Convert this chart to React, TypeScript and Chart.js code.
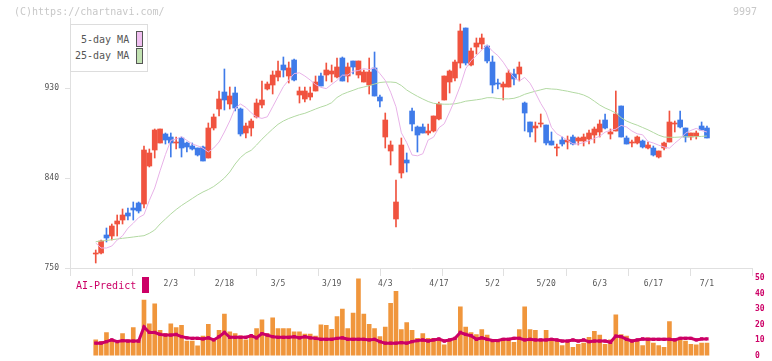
import React, { useEffect, useRef } from 'react';
import { Chart, registerables } from 'chart.js';

Chart.register(...registerables);

// ---- data ----
const opens = [
  764, 765, 783, 782, 794, 798, 805, 810, 815, 814,
  852, 868, 875, 884, 881, 875, 880, 875, 872, 870,
  871, 860, 890, 909, 926, 914, 925, 909, 885, 890,
  901, 913, 929, 933, 941, 953, 942, 958, 923, 919,
  921, 927, 942, 943, 944, 941, 960, 942, 957, 943,
  936, 933, 950, 921, 881, 867, 799, 845, 858, 907,
  891, 891, 885, 887, 899, 918, 936, 940, 955, 990,
  953, 971, 974, 972, 956, 935, 931, 931, 944, 944,
  915, 896, 890, 894, 893, 877, 870, 878, 876, 881,
  877, 877, 879, 883, 886, 898, 884, 887, 912, 880,
  875, 875, 877, 870, 870, 861, 870, 876, 894, 898,
  890, 881, 882, 892, 890,
];
const highs = [
  768, 778, 790, 794, 803, 809, 810, 816, 816, 872,
  869, 889, 889, 885, 885, 881, 881, 876, 875, 870,
  872, 895, 904, 927, 949, 931, 931, 910, 895, 899,
  919, 937, 936, 947, 957, 961, 956, 959, 931, 931,
  931, 942, 945, 955, 953, 960, 961, 955, 957, 957,
  948, 960, 966, 923, 905, 877, 838, 880, 865, 910,
  892, 894, 894, 902, 916, 942, 948, 958, 994, 990,
  970, 980, 984, 973, 962, 939, 936, 948, 949, 956,
  916, 896, 896, 904, 893, 886, 874, 881, 882, 883,
  881, 884, 888, 891, 898, 904, 889, 927, 912, 882,
  878, 882, 878, 876, 872, 867, 876, 907, 897, 907,
  890, 885, 887, 896, 892,
];
const lows = [
  755, 764, 776, 778, 782, 794, 798, 798, 805, 810,
  851, 860, 875, 874, 861, 869, 861, 866, 868, 862,
  857, 860, 888, 902, 908, 909, 907, 882, 880, 882,
  900, 910, 928, 924, 937, 941, 935, 937, 915, 916,
  918, 927, 932, 937, 936, 940, 937, 936, 944, 940,
  936, 924, 922, 911, 870, 853, 791, 840, 846, 887,
  866, 885, 883, 886, 898, 918, 925, 937, 950, 953,
  952, 964, 969, 955, 925, 929, 918, 931, 933, 937,
  887, 881, 876, 891, 873, 873, 862, 872, 869, 873,
  873, 872, 874, 875, 881, 889, 879, 887, 881, 874,
  871, 874, 870, 869, 862, 860, 868, 876, 886, 890,
  876, 878, 879, 888, 880,
];
const closes = [
  765, 777, 780, 792, 797, 803, 802, 808, 807, 868,
  865, 888, 889, 878, 875, 876, 870, 871, 869, 863,
  857, 890, 901, 919, 918, 922, 910, 884, 892, 897,
  915, 918, 934, 943, 947, 948, 950, 938, 927, 927,
  925, 936, 932, 948, 947, 951, 937, 951, 951, 957,
  946, 946, 922, 917, 898, 873, 816, 873, 855, 894,
  883, 885, 887, 902, 914, 942, 947, 956, 987, 955,
  967, 975, 980, 957, 933, 934, 934, 945, 939, 951,
  905, 886, 892, 895, 875, 873, 871, 874, 878, 874,
  880, 881, 885, 889, 894, 890, 886, 904, 881, 874,
  876, 881, 871, 873, 863, 867, 875, 896, 895, 891,
  881, 885, 885, 888, 880,
];
const ma5 = [
  775, 770, 770, 772, 778, 782.2, 789.8, 794.8, 800.4, 803.4,
  817.6, 830, 847.2, 863.4, 877.6, 879, 881.2, 877.6, 874, 872.2,
  869.8, 866, 870, 876, 886, 897, 910, 914, 910.6, 905.2,
  901, 899.6, 901.2, 911.2, 921.4, 931.4, 938, 944.4, 945.2, 942,
  938, 933.4, 930.6, 929.4, 933.6, 937.6, 942.8, 943, 946.8, 947.4,
  949.4, 948.4, 950.2, 944.4, 937.6, 925.8, 911.2, 885.2, 875.4, 863,
  862.2, 864.2, 878, 880.8, 890.2, 894.2, 906, 918.4, 932.2, 949.2,
  957.4, 962.4, 968, 972.8, 966.8, 962.4, 955.8, 947.6, 940.6, 937,
  940.6, 934.8, 925.2, 914.6, 905.8, 890.6, 884.2, 881.2, 877.6, 874.2,
  874, 875.4, 877.4, 879.6, 881.8, 885.8, 887.8, 888.8, 892.6, 891,
  887, 884.2, 883.2, 876.6, 875, 872.8, 871, 869.8, 874.8, 879.2,
  884.8, 887.6, 889.6, 887.4, 886,
];
const ma25 = [
  776.3, 777, 777.5, 778.3, 779, 779.7, 780.3, 781, 781.7, 782.3,
  784.7, 788, 794, 799, 804, 808.5, 812.5, 816, 819.5, 823,
  826, 828.5, 831.5, 835.5, 840, 846, 854, 860.5, 865, 867.7,
  873, 878.8, 884, 889, 893.7, 897, 899.5, 901.5, 903.3, 904.7,
  906.8, 909, 911, 912.7, 915.3, 920.5, 923.7, 925.8, 927.7, 929.7,
  931, 932.3, 934, 935.5, 936, 936, 935.5, 932.5, 928, 924.7,
  921.7, 919, 916.5, 914.7, 914.1, 913.8, 913.8, 914.2, 915.3, 916.8,
  917.5, 918.2, 919, 920.3, 920.3, 919.5, 919.2, 919.1, 919.7, 921.3,
  923.7, 925.3, 926.8, 928.2, 929.5, 929, 928.7, 927.7, 926.8, 925.6,
  924.6, 923, 920.5, 916.8, 913, 910, 907.7, 905, 900.3, 897,
  894.7, 892.8, 890.5, 888.2, 885.5, 882.8, 881, 880.7, 880.7, 881,
  881.3, 881.3, 881.3, 881.6, 882,
];
const volume = [
  10.1, 9.2, 14.9, 10.1, 8.0, 14.2, 10.1, 18.0, 10.1, 35.8,
  20.5, 33.3, 16.3, 14.2, 20.5, 18.0, 19.5, 9.4, 9.4, 6.3,
  12.6, 20.1, 10.1, 16.3, 26.8, 15.3, 14.2, 12.8, 10.1, 13.2,
  17.4, 23.0, 14.2, 24.3, 17.4, 17.4, 17.4, 15.3, 15.3, 13.8,
  13.8, 12.6, 19.9, 19.5, 17.0, 25.1, 29.9, 17.4, 27.4, 49.4,
  26.8, 20.1, 17.4, 12.2, 18.4, 33.7, 41.4, 16.8, 21.2, 16.3,
  11.1, 14.2, 11.1, 11.1, 11.1, 6.9, 10.1, 11.1, 31.4, 18.4,
  14.9, 13.6, 16.8, 13.2, 9.7, 9.7, 11.1, 11.1, 8.6, 16.8,
  31.4, 16.8, 16.3, 9.7, 16.3, 9.7, 9.7, 6.5, 9.0, 5.4,
  7.3, 8.0, 11.8, 15.7, 13.2, 7.3, 10.1, 26.2, 13.6, 12.6,
  10.1, 10.1, 6.5, 11.5, 8.0, 6.5, 5.4, 22.0, 11.1, 10.5,
  9.4, 7.3, 6.9, 8.0, 8.0,
];
const aiPredict = [
  8.0, 8.0, 9.0, 10.1, 9.0, 9.7, 9.4, 9.4, 9.4, 18.4,
  14.9, 14.9, 13.6, 13.2, 13.2, 13.6, 12.2, 11.5, 11.1, 11.1,
  10.7, 11.5, 10.1, 12.2, 14.9, 11.8, 11.8, 11.8, 11.8, 12.8,
  11.5, 14.2, 13.2, 12.2, 11.8, 11.8, 11.8, 12.2, 11.5, 12.2,
  11.5, 11.1, 10.5, 10.5, 10.5, 11.1, 11.5, 10.5, 10.5, 10.5,
  10.5, 10.1, 10.5, 9.0, 8.0, 8.0, 8.0, 8.4, 8.0, 9.0,
  9.7, 10.1, 9.4, 10.1, 10.7, 9.4, 10.1, 11.1, 14.9, 13.6,
  12.8, 10.5, 11.5, 10.5, 9.7, 9.7, 10.5, 10.5, 11.1, 11.1,
  10.1, 10.5, 10.1, 10.1, 10.1, 10.5, 10.1, 9.4, 9.4, 10.1,
  9.4, 10.1, 9.0, 9.4, 9.4, 9.4, 8.6, 12.6, 12.2, 10.5,
  9.4, 10.1, 10.7, 10.5, 10.5, 10.5, 10.5, 10.5, 10.1, 11.1,
  11.1, 11.1, 10.1, 10.7, 10.7,
];
const xTickLabels = ['2/3', '2/18', '3/5', '3/19', '4/3', '4/17', '5/2', '5/20', '6/3', '6/17', '7/1'];
const xTickFirstIndex = 14;
const xTickStep = 10;
const priceTicks = [750, 840, 930];
const volumeTicks = [0, 10, 20, 30, 40, 50];

// ---- styles ----
const W = 772;
const H = 361;
const X_MIN = -4.8;
const X_MAX = 122.4;
const UP = '#f0533f';
const DOWN = '#3f7be9';
const MA5C = '#e8b2e8';
const MA25C = '#b2d9a2';
const VOLC = '#f0963c';
const AIC = '#cc0066';
const AXIS = '#e0e0e0';
const FONT = "'DejaVu Sans Mono', monospace";

export default function App() {
  const mainRef = useRef<HTMLCanvasElement>(null);
  const volRef = useRef<HTMLCanvasElement>(null);

  useEffect(() => {
    Chart.defaults.font.family = FONT;
    const idx = closes.map((_, i) => i);
    const colors = idx.map((i) => (closes[i] >= opens[i] ? UP : DOWN));

    const main = new Chart(mainRef.current as HTMLCanvasElement, {
      type: 'bar',
      data: {
        datasets: [
          {
            type: 'line',
            label: '5-day MA',
            data: idx.map((i) => ({ x: i, y: ma5[i] })),
            borderColor: MA5C,
            borderWidth: 1,
            pointRadius: 0,
            tension: 0,
            order: 0,
          } as any,
          {
            type: 'line',
            label: '25-day MA',
            data: idx.map((i) => ({ x: i, y: ma25[i] })),
            borderColor: MA25C,
            borderWidth: 1,
            pointRadius: 0,
            tension: 0,
            order: 0,
          } as any,
          {
            type: 'bar',
            label: 'body',
            data: idx.map((i) => ({ x: i, y: [opens[i], closes[i]] })),
            backgroundColor: colors,
            barThickness: 5,
            maxBarThickness: 5,
            minBarLength: 1,
            grouped: false,
            order: 1,
          } as any,
          {
            type: 'bar',
            label: 'wick',
            data: idx.map((i) => ({ x: i, y: [lows[i], highs[i]] })),
            backgroundColor: colors,
            barThickness: 1,
            maxBarThickness: 1,
            grouped: false,
            order: 2,
          } as any,
        ],
      },
      options: {
        responsive: false,
        animation: false,
        events: [],
        layout: { padding: { top: 18, right: 20, bottom: 71, left: 0 } },
        plugins: { legend: { display: false }, tooltip: { enabled: false } },
        scales: {
          x: {
            type: 'linear',
            position: 'bottom',
            min: X_MIN,
            max: X_MAX,
            offset: false,
            weight: 0,
            ticks: { display: false },
            grid: { drawOnChartArea: false, color: AXIS, tickLength: 8, offset: false },
            border: { color: AXIS },
            afterBuildTicks: (s: any) => {
              s.ticks = Array.from({ length: 12 }, (_, k) => ({ value: X_MIN + (k * (X_MAX - X_MIN)) / 11 }));
            },
            afterFit: (s: any) => {
              s.height = 8;
            },
          },
          xl: {
            type: 'linear',
            position: 'bottom',
            min: X_MIN,
            max: X_MAX,
            offset: false,
            weight: 1,
            grid: { display: false, drawTicks: false, offset: false },
            border: { display: false },
            ticks: {
              autoSkip: false,
              maxRotation: 0,
              color: '#555',
              font: { size: 8 },
              padding: 3,
              callback: (_v: any, i: number) => xTickLabels[i],
            },
            afterBuildTicks: (s: any) => {
              s.ticks = xTickLabels.map((_, k) => ({ value: xTickFirstIndex + k * xTickStep }));
            },
            afterFit: (s: any) => {
              s.height = 14;
            },
          },
          y: {
            type: 'linear',
            position: 'left',
            min: 750,
            max: 1000,
            grid: { drawOnChartArea: false, color: AXIS, tickLength: 5 },
            border: { color: AXIS },
            ticks: { color: '#555', font: { size: 8 }, padding: 6 },
            afterBuildTicks: (s: any) => {
              s.ticks = priceTicks.map((v) => ({ value: v }));
            },
            afterFit: (s: any) => {
              s.width = 70;
            },
          },
        },
      } as any,
    });

    const vol = new Chart(volRef.current as HTMLCanvasElement, {
      type: 'bar',
      data: {
        datasets: [
          {
            type: 'line',
            label: 'AI-Predict',
            data: idx.map((i) => ({ x: i, y: aiPredict[i] })),
            borderColor: AIC,
            borderWidth: 3,
            pointStyle: 'rect',
            pointRadius: 2.3,
            pointBackgroundColor: AIC,
            pointBorderColor: AIC,
            pointBorderWidth: 0,
            tension: 0,
            order: 0,
          } as any,
          {
            type: 'bar',
            label: 'Volume',
            data: idx.map((i) => ({ x: i, y: volume[i] })),
            backgroundColor: VOLC,
            barThickness: 4,
            maxBarThickness: 4,
            grouped: false,
            order: 1,
          } as any,
        ],
      },
      options: {
        responsive: false,
        animation: false,
        events: [],
        layout: { padding: { top: 278, right: 0, bottom: 3, left: 70 } },
        plugins: { legend: { display: false }, tooltip: { enabled: false } },
        scales: {
          x: { type: 'linear', min: X_MIN, max: X_MAX, offset: false, grid: { offset: false }, display: false },
          y: {
            type: 'linear',
            position: 'right',
            min: 0,
            max: 50,
            grid: { display: false, drawTicks: false },
            border: { display: false },
            ticks: { color: AIC, font: { size: 8, weight: 'bold', lineHeight: 0.6 }, padding: 3 },
            afterBuildTicks: (s: any) => {
              s.ticks = volumeTicks.map((v) => ({ value: v }));
            },
            afterFit: (s: any) => {
              s.width = 20;
            },
          },
        },
      } as any,
    });

    return () => {
      main.destroy();
      vol.destroy();
    };
  }, []);

  const txt: React.CSSProperties = {
    position: 'absolute',
    fontFamily: FONT,
    fontSize: 10,
    lineHeight: '12px',
    whiteSpace: 'nowrap',
  };

  return (
    <div style={{ position: 'fixed', left: 0, top: 0, width: W, height: H, background: '#fff', overflow: 'hidden' }}>
      <canvas ref={mainRef} width={W} height={H} style={{ position: 'absolute', left: 0, top: 0, width: W, height: H }} />
      <canvas ref={volRef} width={W} height={H} style={{ position: 'absolute', left: 0, top: 0, width: W, height: H }} />
      <span style={{ ...txt, left: 14, top: 6, color: '#c8c8c8' }}>(C)https://chartnavi.com/</span>
      <span style={{ ...txt, left: 733, top: 6, color: '#c8c8c8' }}>9997</span>
      <div
        style={{
          position: 'absolute',
          left: 70,
          top: 24,
          width: 78,
          height: 48,
          boxSizing: 'border-box',
          border: '1px solid #dddddd',
          background: '#fff',
        }}
      />
      <span style={{ ...txt, left: 81, top: 34, color: '#555' }}>5-day MA</span>
      <div style={{ position: 'absolute', left: 136, top: 31, width: 7, height: 16, boxSizing: 'border-box', border: '1px solid #555', background: '#f0bff0' }} />
      <span style={{ ...txt, left: 75, top: 50, color: '#555' }}>25-day MA</span>
      <div style={{ position: 'absolute', left: 136, top: 48, width: 7, height: 16, boxSizing: 'border-box', border: '1px solid #555', background: '#c2e2b2' }} />
      <span style={{ ...txt, left: 76, top: 280, color: AIC }}>AI-Predict</span>
      <div style={{ position: 'absolute', left: 142, top: 277, width: 7, height: 16, background: AIC }} />
    </div>
  );
}
